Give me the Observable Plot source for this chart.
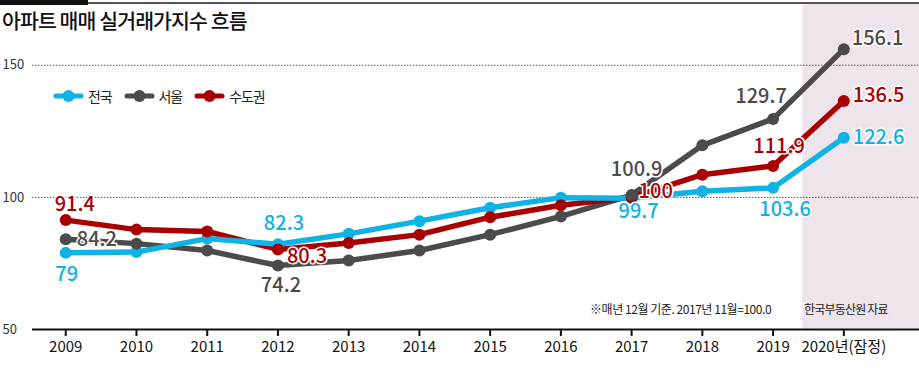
<!DOCTYPE html>
<html>
<head>
<meta charset="utf-8">
<script src="https://cdn.jsdelivr.net/npm/d3@7"></script>
<script src="https://cdn.jsdelivr.net/npm/@observablehq/plot@0.6"></script>
<style>
  html, body { margin: 0; padding: 0; background: #fff; }
  #wrap { position: relative; width: 919px; height: 381px; overflow: hidden; font-family: "Noto Sans CJK KR", "Noto Sans", sans-serif; }
  #chart { position: absolute; left: 0; top: 0; }
  .ov { position: absolute; white-space: nowrap; }
  #bar { left: 0; top: 0; width: 88px; height: 5px; background: #111; }
  #topline { left: 88px; top: 2px; width: 831px; height: 1.5px; background: #555; }
  #title { left: 2px; top: 8px; font-size: 20.5px; font-weight: 500; letter-spacing: -0.9px; color: #111; line-height: 24px; }
  #legend { left: 53px; top: 87px; height: 18px; display: flex; align-items: center; font-size: 14px; letter-spacing: -1.1px; color: #222; }
  #legend .item { display: flex; align-items: center; margin-right: 12px; }
  #legend svg { margin-right: 4px; }
  .note { top: 300px; font-size: 12px; letter-spacing: -0.45px; color: #222; line-height: 18px; }
</style>
</head>
<body>
<div id="wrap">
  <div id="chart"></div>
  <div class="ov" id="bar"></div>
  <div class="ov" id="topline"></div>
  <div class="ov" id="title"></div>
  <div class="ov" id="legend"></div>
  <div class="ov note" id="note1" style="left:590px"></div>
  <div class="ov note" id="note2" style="left:804px;letter-spacing:-0.8px"></div>
</div>
<script>
// ---- data ----
const titleText = "아파트 매매 실거래가지수 흐름";
const noteText = "※매년 12월 기준. 2017년 11월=100.0";
const sourceText = "한국부동산원 자료";
const years = [2009, 2010, 2011, 2012, 2013, 2014, 2015, 2016, 2017, 2018, 2019, 2020];
const xTickLabels = ["2009", "2010", "2011", "2012", "2013", "2014", "2015", "2016", "2017", "2018", "2019", "2020년(잠정)"];
const seriesNames = ["전국", "서울", "수도권"];
const national = [79, 79.3, 84.4, 82.3, 86.2, 91.0, 96.1, 99.9, 99.7, 102.3, 103.6, 122.6];
const seoul = [84.2, 82.5, 79.9, 74.2, 76.1, 79.9, 85.9, 92.8, 100.9, 119.7, 129.7, 156.1];
const capital = [91.4, 87.8, 87.1, 80.3, 82.7, 85.9, 92.5, 97.0, 100, 108.6, 111.9, 136.5];
const labeledYears = [2009, 2012, 2017, 2019, 2020];
const yTicks = [50, 100, 150];
const provisionalYear = 2020;

// ---- styles ----
const colors = { "전국": "#0fb2e4", "서울": "#4b4b4b", "수도권": "#a80000" };
// label offsets [dx, dy, anchor] per series & year
const place = {
  "전국":  {2009: [1, 22, "middle"], 2012: [6, -21, "middle"], 2017: [7, 13, "middle"], 2019: [12, 22, "middle"], 2020: [9, 0, "start"]},
  "서울":  {2009: [11, 0, "start"], 2012: [3, 20, "middle"], 2017: [5, -25, "middle"], 2019: [-12, -22, "middle"], 2020: [8, -11, "start"]},
  "수도권": {2009: [9, -16, "middle"], 2012: [9, 7, "start"], 2017: [7, -6, "start"], 2019: [6, -19, "middle"], 2020: [9, -5, "start"]}
};

const seriesValues = { "전국": national, "서울": seoul, "수도권": capital };
const rows = [];
for (const s of seriesNames) years.forEach((y, i) => rows.push({ series: s, year: y, value: seriesValues[s][i] }));

const drawOrderLines = ["서울", "수도권", "전국"];
const drawOrderDots = ["전국", "수도권", "서울"];

const marks = [
  Plot.rect([provisionalYear], { x1: d => d - 0.58, x2: 2021.2, fill: "#eee4ec" }),
  Plot.ruleY([100, 150], { stroke: "#555", strokeWidth: 1, strokeDasharray: "1.5,1.5" }),
  Plot.ruleY([50], { stroke: "#111", strokeWidth: 2 }),
  Plot.axisX({ ticks: years, tickSize: 7, tickPadding: 5, strokeWidth: 2, stroke: "#111", fill: "#111", fontSize: 15, label: null,
    tickFormat: d => xTickLabels[years.indexOf(d)] }),
  Plot.text(yTicks, { y: d => d, text: d => String(d), frameAnchor: "left", textAnchor: "start", dx: -30, fontSize: 13, fill: "#333" })
];
for (const s of drawOrderLines) {
  marks.push(Plot.line(rows.filter(r => r.series === s), { x: "year", y: "value", stroke: colors[s], strokeWidth: 5.5, strokeLinejoin: "round", strokeLinecap: "round" }));
}
for (const s of drawOrderDots) {
  marks.push(Plot.dot(rows.filter(r => r.series === s), { x: "year", y: "value", r: 6, fill: colors[s] }));
}
for (const s of seriesNames) {
  for (const yr of labeledYears) {
    const [dx, dy, anchor] = place[s][yr];
    marks.push(Plot.text(rows.filter(r => r.series === s && r.year === yr), {
      x: "year", y: "value", text: d => String(d.value), fill: colors[s],
      stroke: "white", strokeWidth: 3, fontSize: 20, fontWeight: 500,
      dx, dy, textAnchor: anchor
    }));
  }
}

const chart = Plot.plot({
  width: 919, height: 381,
  marginLeft: 32, marginRight: 0, marginTop: 4, marginBottom: 52,
  x: { type: "linear", domain: [2008.53, 2021.07], axis: null, label: null },
  y: { domain: [50, 173.0], axis: null, label: null },
  style: { fontFamily: "'Noto Sans CJK KR', 'Noto Sans', sans-serif", background: "transparent", overflow: "visible" },
  marks
});
document.getElementById("chart").appendChild(chart);

document.getElementById("title").textContent = titleText;
document.getElementById("note1").textContent = noteText;
document.getElementById("note2").textContent = sourceText;
const legend = document.getElementById("legend");
for (const s of seriesNames) {
  const item = document.createElement("div");
  item.className = "item";
  item.innerHTML = `<svg width="31" height="14"><line x1="3" y1="7" x2="28" y2="7" stroke="${colors[s]}" stroke-width="5" stroke-linecap="round"/><circle cx="15.5" cy="7" r="6" fill="${colors[s]}"/></svg><span>${s}</span>`;
  legend.appendChild(item);
}
</script>
</body>
</html>
